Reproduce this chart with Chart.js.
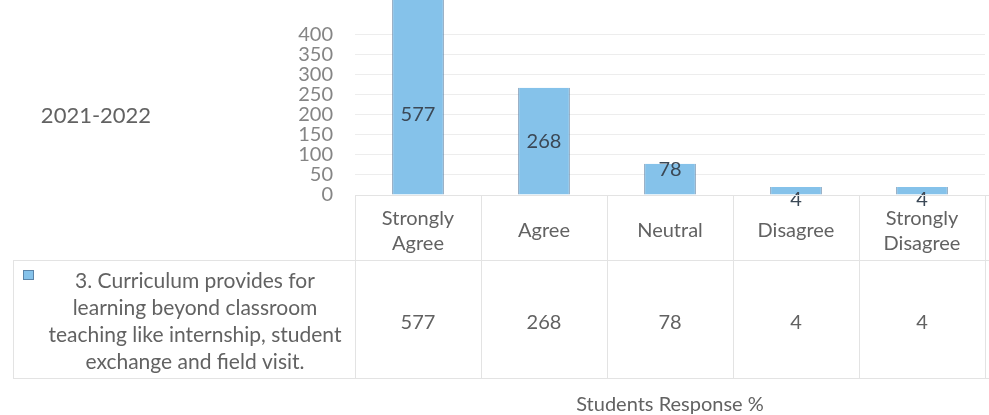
<!DOCTYPE html>
<html>
<head>
<meta charset="utf-8">
<script src="https://cdn.jsdelivr.net/npm/chart.js@4"></script>
<style>
  html, body { margin: 0; padding: 0; background: #fff; }
  #wrap { width: 989px; height: 415px; position: relative; }
</style>
</head>
<body>
<div id="wrap"><canvas id="chart" width="989" height="415"></canvas></div>
<script>
// data
const yearLabel  = '2021-2022';
const categories = [['Strongly', 'Agree'], 'Agree', 'Neutral', 'Disagree', ['Strongly', 'Disagree']];
const responses  = [577, 268, 78, 4, 4];
const seriesName = ['3. Curriculum provides for', 'learning beyond classroom', 'teaching like internship, student', 'exchange and field visit.'];
const axisTitle  = 'Students Response %';
const lastTick   = 400;

const FONT = 'Lato, "Open Sans", sans-serif';
const TEXT = '#626262';
const LINE = '#e3e3e3';
const BAR  = '#85c2ea';

// draws the data table, category names, titles and value labels
const tablePlugin = {
  id: 'excelTable',
  afterDatasetsDraw(chart) {
    const { ctx, chartArea: a, scales: { x, y } } = chart;
    const meta = chart.getDatasetMeta(0);
    const half = (a.right - a.left) / categories.length / 2;
    const headTop = a.bottom, rowTop = a.bottom + 65, rowBottom = a.bottom + 183;

    ctx.save();
    // value labels on bars
    ctx.font = '20px ' + FONT;
    ctx.fillStyle = '#3b4856';
    ctx.textAlign = 'center';
    ctx.textBaseline = 'middle';
    meta.data.forEach((bar, i) => {
      const top = Math.max(bar.y, y.getPixelForValue(lastTick));
      const h = bar.base - bar.y;
      let ly = (top + bar.base) / 2;
      if (h < 20) ly = bar.base + 5;
      else if (h < 50) ly = bar.y + 6;
      ctx.fillText(String(responses[i]), bar.x, ly);
    });

    // table lines
    ctx.strokeStyle = LINE;
    ctx.lineWidth = 1;
    ctx.beginPath();
    ctx.moveTo(a.left, headTop + 0.5); ctx.lineTo(a.right + 4, headTop + 0.5);
    ctx.moveTo(13, rowTop + 0.5); ctx.lineTo(a.right + 4, rowTop + 0.5);
    ctx.moveTo(13, rowBottom + 0.5); ctx.lineTo(a.right + 4, rowBottom + 0.5);
    ctx.moveTo(13.5, rowTop); ctx.lineTo(13.5, rowBottom);
    categories.forEach((c, i) => {
      const bx = Math.round(x.getPixelForValue(i) - half) + 0.5;
      ctx.moveTo(bx, headTop); ctx.lineTo(bx, rowBottom);
    });
    const rx = Math.round(x.getPixelForValue(categories.length - 1) + half) + 0.5;
    ctx.moveTo(rx, headTop); ctx.lineTo(rx, rowBottom);
    ctx.stroke();

    // category names
    ctx.font = '20px ' + FONT;
    ctx.fillStyle = TEXT;
    categories.forEach((c, i) => {
      const cx = x.getPixelForValue(i);
      const lines = Array.isArray(c) ? c : [c];
      const cy = headTop + 36;
      lines.forEach((t, k) => ctx.fillText(t, cx, cy + (k - (lines.length - 1) / 2) * 25));
    });

    // values row
    responses.forEach((v, i) => ctx.fillText(String(v), x.getPixelForValue(i), rowTop + 63));

    // legend key + series name
    ctx.font = '21px ' + FONT;
    ctx.fillStyle = BAR;
    ctx.fillRect(23, rowTop + 10, 11, 10);
    ctx.strokeStyle = '#5b84a8';
    ctx.strokeRect(23.5, rowTop + 10.5, 10, 9);
    ctx.fillStyle = TEXT;
    const nameX = (35 + a.left) / 2;
    seriesName.forEach((t, k) => ctx.fillText(t, nameX, rowTop + 21 + k * 27));

    // year label and axis title
    ctx.font = '22px ' + FONT;
    ctx.fillText(yearLabel, 96, 116);
    ctx.font = '20px ' + FONT;
    ctx.fillText(axisTitle, (a.left + a.right) / 2, 405);
    ctx.restore();
  }
};

new Chart(document.getElementById('chart'), {
  type: 'bar',
  data: {
    labels: categories,
    datasets: [{
      label: seriesName.join(' '),
      data: responses,
      backgroundColor: BAR,
      borderColor: '#6f8fae',
      borderWidth: { left: 1, right: 1, top: 0, bottom: 0 },
      barPercentage: 0.41,
      categoryPercentage: 1,
      minBarLength: 8,
    }],
  },
  options: {
    responsive: false,
    devicePixelRatio: 1,
    animation: false,
    layout: { padding: { top: 0, right: 4, bottom: 220, left: 0 } },
    plugins: { legend: { display: false }, tooltip: { enabled: false } },
    scales: {
      x: { display: false },
      y: {
        min: 0,
        max: 487,
        afterFit: axis => { axis.width = 355; axis.paddingTop = 0; axis.paddingBottom = 0; },
        ticks: {
          stepSize: 50,
          autoSkip: false,
          padding: 22,
          color: '#858585',
          font: { family: FONT, size: 20 },
          callback: v => (v <= lastTick ? v : ''),
        },
        grid: {
          drawTicks: false,
          color: c => (c.tick && c.tick.value > 0 && c.tick.value <= lastTick ? '#ededed' : 'rgba(0,0,0,0)'),
        },
        border: { display: false },
      },
    },
  },
  plugins: [tablePlugin],
});
</script>
</body>
</html>
